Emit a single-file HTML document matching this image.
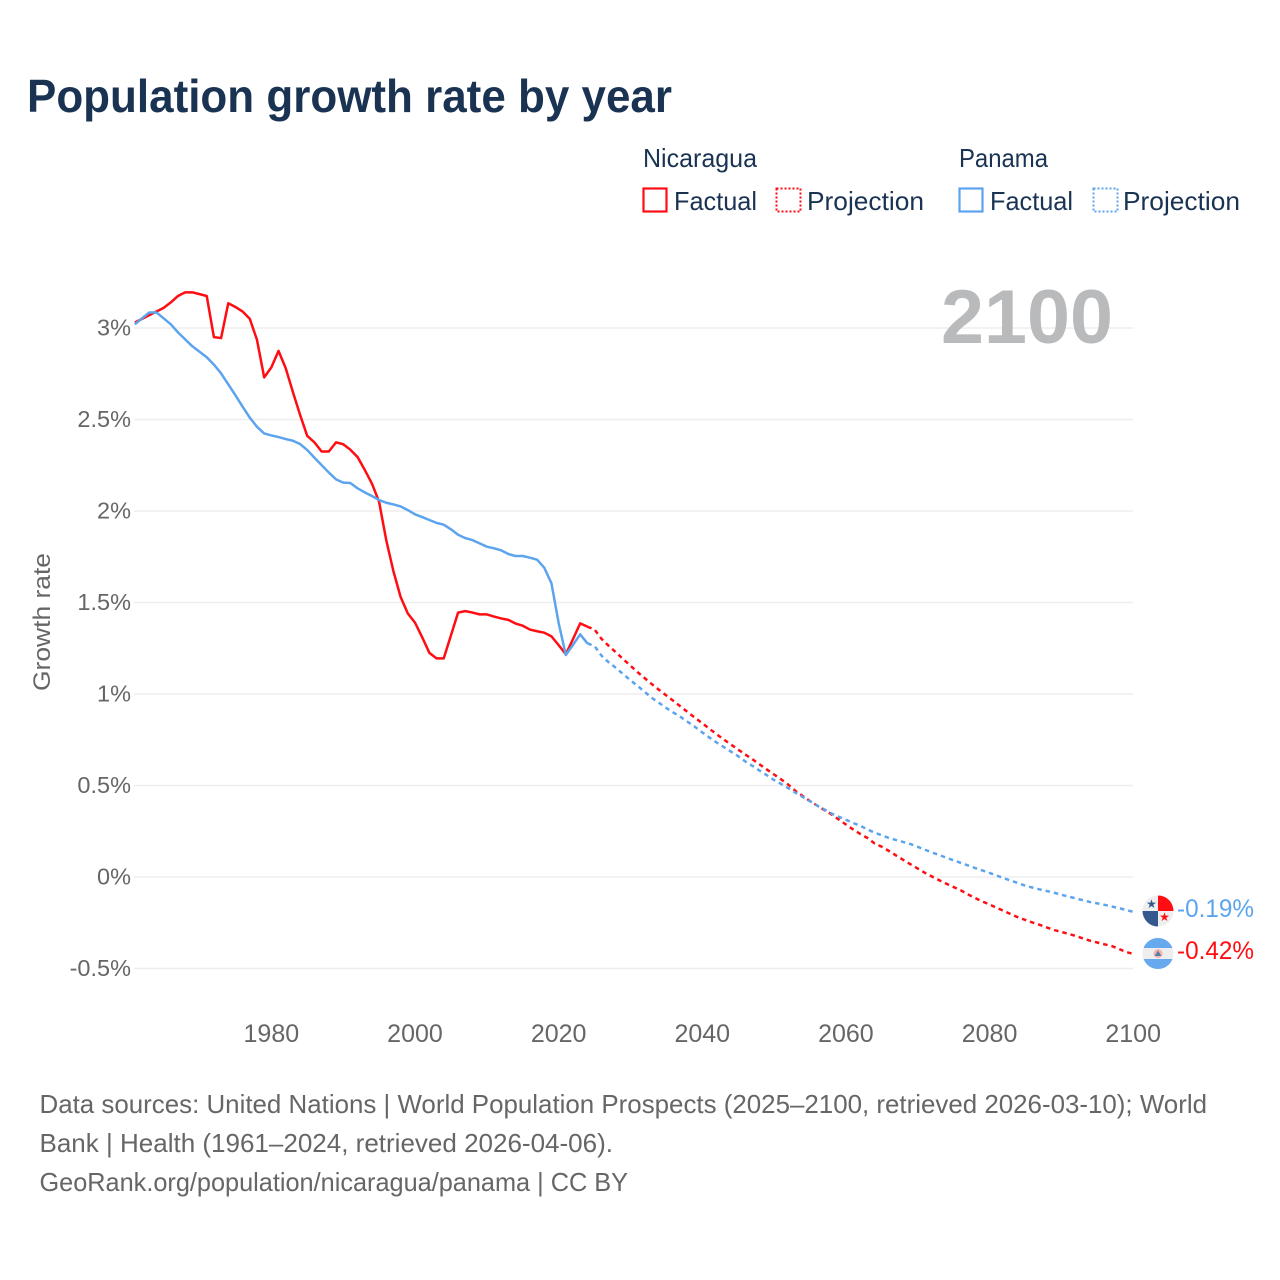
<!DOCTYPE html>
<html lang="en">
<head>
<meta charset="utf-8">
<title>Population growth rate by year</title>
<style>
html,body{margin:0;padding:0;background:#fff;width:1280px;height:1280px;overflow:hidden}
svg{display:block;font-family:"Liberation Sans",sans-serif}
</style>
</head>
<body>
<svg id="chart" width="1280" height="1280" viewBox="0 0 1280 1280" xmlns="http://www.w3.org/2000/svg">
  <defs>
    <clipPath id="clip-pa"><circle cx="1158" cy="911" r="15.5"/></clipPath>
    <clipPath id="clip-ni"><circle cx="1158" cy="953.5" r="15.5"/></clipPath>
  </defs>
  <rect width="1280" height="1280" fill="#fff"/>
  <text x="27" y="112" font-size="46" font-weight="700" fill="#1a3353" textLength="645" lengthAdjust="spacingAndGlyphs">Population growth rate by year</text>

  <g font-size="26" fill="#1a3353">
    <text x="643" y="167" textLength="114" lengthAdjust="spacingAndGlyphs">Nicaragua</text>
    <text x="959" y="167" textLength="89" lengthAdjust="spacingAndGlyphs">Panama</text>
    <g>
      <rect x="643.5" y="188.5" width="23" height="23" fill="none" stroke="#ff0d12" stroke-width="2.2"/>
      <text x="674" y="210" textLength="83" lengthAdjust="spacingAndGlyphs">Factual</text>
    </g>
    <g>
      <rect x="776.5" y="188.5" width="24" height="23" fill="none" stroke="#ff0d12" stroke-width="2" stroke-dasharray="2 2"/>
      <text x="807" y="210" textLength="117" lengthAdjust="spacingAndGlyphs">Projection</text>
    </g>
    <g>
      <rect x="959.5" y="188.5" width="23" height="23" fill="none" stroke="#5ca4ee" stroke-width="2.2"/>
      <text x="990" y="210" textLength="83" lengthAdjust="spacingAndGlyphs">Factual</text>
    </g>
    <g>
      <rect x="1093.5" y="188.5" width="24" height="23" fill="none" stroke="#5ca4ee" stroke-width="2" stroke-dasharray="2 2"/>
      <text x="1123" y="210" textLength="117" lengthAdjust="spacingAndGlyphs">Projection</text>
    </g>
  </g>

  <g id="grid"></g>
  <text x="941" y="343" font-size="76" font-weight="700" fill="#b9babc" textLength="172" lengthAdjust="spacingAndGlyphs">2100</text>
  <g id="yaxis"></g>
  <g id="xaxis"></g>
  <text transform="translate(50 691) rotate(-90)" font-size="24" fill="#666" textLength="138" lengthAdjust="spacingAndGlyphs">Growth rate</text>
  <g id="series"></g>

  <g clip-path="url(#clip-pa)">
    <rect x="1142" y="895" width="32" height="32" fill="#eeeeee"/>
    <rect x="1158" y="895" width="16" height="16" fill="#ff0d12"/>
    <rect x="1142" y="911" width="16" height="16" fill="#35588f"/>
    <text x="1151.5" y="908" font-size="12" text-anchor="middle" fill="#35588f">★</text>
    <text x="1164.5" y="921" font-size="12" text-anchor="middle" fill="#ff0d12">★</text>
  </g>
  <g clip-path="url(#clip-ni)">
    <rect x="1142" y="938" width="32" height="32" fill="#eeeeee"/>
    <rect x="1142" y="938" width="32" height="10" fill="#66a9ef"/>
    <rect x="1142" y="959" width="32" height="11" fill="#66a9ef"/>
    <circle cx="1158" cy="953.5" r="4.5" fill="#f3b5ae"/>
    <path d="M1154.5 956l3.5-5.5 3.5 5.5z" fill="#5a7ea8"/>
  </g>
  <text x="1177" y="917" font-size="25" fill="#5ca4ee" textLength="77" lengthAdjust="spacingAndGlyphs">-0.19%</text>
  <text x="1177" y="959" font-size="25" fill="#ff0d12" textLength="77" lengthAdjust="spacingAndGlyphs">-0.42%</text>

  <g font-size="26" fill="#666">
    <text x="39.5" y="1113" textLength="1167.5" lengthAdjust="spacingAndGlyphs">Data sources: United Nations | World Population Prospects (2025–2100, retrieved 2026-03-10); World</text>
    <text x="39.5" y="1152" textLength="573.5" lengthAdjust="spacingAndGlyphs">Bank | Health (1961–2024, retrieved 2026-04-06).</text>
    <text x="39.5" y="1191" textLength="588.5" lengthAdjust="spacingAndGlyphs">GeoRank.org/population/nicaragua/panama | CC BY</text>
  </g>
</svg>
<script>
const firstYear = 1961;
const projectionStartYear = 2024;
const xTickYears = [1980, 2000, 2020, 2040, 2060, 2080, 2100];
const yTickValues = [-0.5, 0, 0.5, 1, 1.5, 2, 2.5, 3];
const nicaraguaFactual = [3.03,3.05,3.07,3.09,3.11,3.14,3.175,3.195,3.195,3.185,3.175,2.95,2.945,3.135,3.115,3.09,3.05,2.935,2.73,2.785,2.875,2.78,2.65,2.525,2.41,2.375,2.325,2.325,2.375,2.365,2.335,2.295,2.225,2.15,2.05,1.84,1.67,1.53,1.44,1.39,1.31,1.225,1.195,1.195,1.32,1.445,1.453,1.445,1.435,1.435,1.423,1.413,1.405,1.385,1.373,1.352,1.343,1.335,1.315,1.267,1.217,1.30,1.386,1.368];
const panamaFactual = [3.02,3.053,3.085,3.085,3.053,3.02,2.976,2.938,2.90,2.87,2.84,2.80,2.752,2.692,2.632,2.57,2.51,2.46,2.424,2.413,2.404,2.393,2.384,2.366,2.333,2.291,2.251,2.21,2.173,2.155,2.153,2.124,2.102,2.082,2.06,2.045,2.036,2.025,2.005,1.982,1.967,1.951,1.935,1.925,1.90,1.87,1.852,1.841,1.823,1.805,1.796,1.785,1.765,1.754,1.754,1.745,1.734,1.69,1.605,1.388,1.213,1.268,1.326,1.277];
const nicaraguaProjection = [1.368,1.352,1.30,1.262,1.227,1.19,1.155,1.119,1.086,1.053,1.022,0.992,0.962,0.931,0.90,0.87,0.84,0.81,0.78,0.751,0.724,0.696,0.669,0.643,0.615,0.587,0.56,0.533,0.504,0.47,0.442,0.415,0.39,0.366,0.342,0.314,0.287,0.26,0.235,0.213,0.183,0.165,0.142,0.117,0.093,0.069,0.046,0.023,0.002,-0.018,-0.037,-0.055,-0.073,-0.095,-0.115,-0.134,-0.15,-0.168,-0.186,-0.204,-0.221,-0.235,-0.249,-0.262,-0.276,-0.29,-0.30,-0.311,-0.322,-0.336,-0.348,-0.358,-0.368,-0.377,-0.393,-0.41,-0.42];
const panamaProjection = [1.277,1.262,1.208,1.172,1.142,1.108,1.075,1.044,1.011,0.978,0.951,0.923,0.898,0.874,0.847,0.82,0.79,0.762,0.735,0.71,0.685,0.66,0.631,0.607,0.581,0.556,0.53,0.508,0.485,0.46,0.437,0.414,0.39,0.369,0.347,0.329,0.313,0.295,0.28,0.26,0.242,0.228,0.213,0.202,0.191,0.18,0.165,0.149,0.134,0.12,0.105,0.091,0.077,0.063,0.049,0.036,0.022,0.008,-0.007,-0.02,-0.034,-0.048,-0.058,-0.068,-0.077,-0.086,-0.097,-0.107,-0.117,-0.127,-0.137,-0.144,-0.152,-0.161,-0.17,-0.18,-0.19];

const NS = 'http://www.w3.org/2000/svg';
function xScale(year) { return 134.9 + (year - 1961) * (1133.2 - 134.9) / (2100 - 1961); }
function yScale(v) { return 877 - v * 183; }
function make(tag, attrs, parent) {
  const el = document.createElementNS(NS, tag);
  for (const k in attrs) el.setAttribute(k, attrs[k]);
  parent.appendChild(el);
  return el;
}
function linePath(values, startYear) {
  return values.map((v, i) => (i ? 'L' : 'M') + xScale(startYear + i).toFixed(2) + ' ' + yScale(v).toFixed(2)).join('');
}
const gridG = document.getElementById('grid');
const yG = document.getElementById('yaxis');
const xG = document.getElementById('xaxis');
const seriesG = document.getElementById('series');

yTickValues.forEach(function (v) {
  const line = make('line', { x1: 134, x2: 1133, y1: yScale(v), y2: yScale(v), stroke: '#eeeeee', 'stroke-width': 1.5 }, gridG);
  
  
  const t = make('text', { x: 131, y: yScale(v) + 7.5, 'text-anchor': 'end', 'font-size': 23.5, fill: '#666' }, yG);
  
  
  t.textContent = v + '%';
});
xTickYears.forEach(function (yr) {
  const t = make('text', { x: xScale(yr), y: 1042, 'text-anchor': 'middle', 'font-size': 25, fill: '#666' }, xG);
  
  
  t.textContent = yr;
});

const common = { fill: 'none', 'stroke-width': 2.5, 'stroke-linejoin': 'round' };
const nf = make('path', Object.assign({ d: linePath(nicaraguaFactual, firstYear), stroke: '#ff0d12' }, common), seriesG);


const pf = make('path', Object.assign({ d: linePath(panamaFactual, firstYear), stroke: '#5ca4ee' }, common), seriesG);


const np = make('path', Object.assign({ d: linePath(nicaraguaProjection, projectionStartYear), stroke: '#ff0d12', 'stroke-dasharray': '4.5 4' }, common), seriesG);


const pp = make('path', Object.assign({ d: linePath(panamaProjection, projectionStartYear), stroke: '#5ca4ee', 'stroke-dasharray': '4.5 4' }, common), seriesG);


</script>
</body>
</html>
